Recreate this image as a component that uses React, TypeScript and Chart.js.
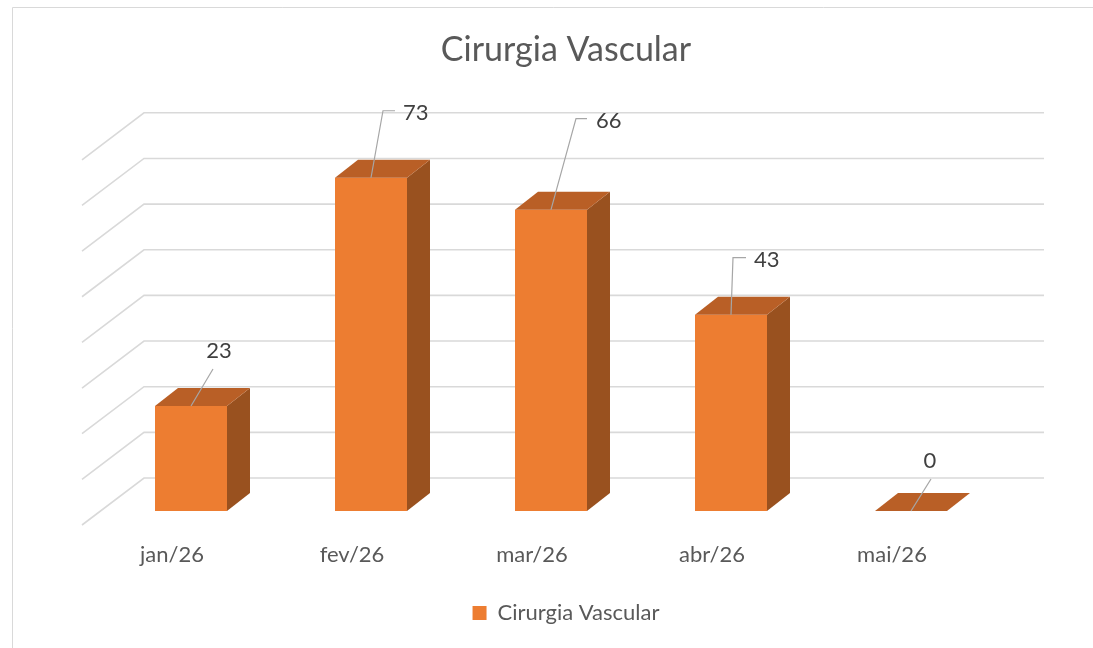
import React, { useEffect, useRef } from "react";
import { Chart, registerables } from "chart.js";

Chart.register(...registerables);

const categories = ["jan/26", "fev/26", "mar/26", "abr/26", "mai/26"];
const seriesName = "Cirurgia Vascular";
const values = [23, 73, 66, 43, 0];
const yMax = 80;
const yStep = 10;

// label leader layout (relative to bar top centre)
const labelElbows = [[22, -37], [12, -67], [25, -91], [2, -57], [20, -32]];
const labelTails = [0, 12, 11, 13, 0];
const labelTexts: [number, number, CanvasTextAlign][] = [
  [28, -55, "center"], [32, -65, "left"], [45, -89, "left"], [23, -55, "left"], [19, -50, "center"],
];

const FONT = "Lato, 'Open Sans', sans-serif";
const FRONT = "#ED7D31";
const TOP = "#B95F26";
const SIDE = "#99511F";
const GRID = "#D9D9D9";
const DEPTH = { dx: 23, dy: -18 };
const BACK = { dx: 43, dy: -33 };
const FRONTPLANE = { dx: -19, dy: 14 };

const threeD = {
  id: "threeD",
  beforeDraw(chart: any) {
    const ctx = chart.ctx;
    ctx.save();
    ctx.strokeStyle = GRID;
    ctx.lineWidth = 1;
    ctx.beginPath();
    ctx.moveTo(12.5, chart.height + 5);
    ctx.lineTo(12.5, 7.5);
    ctx.lineTo(chart.width + 5, 7.5);
    ctx.stroke();
    ctx.restore();
  },
  beforeDatasetsDraw(chart: any) {
    const ctx = chart.ctx;
    const ys = chart.scales.y;
    const area = chart.chartArea;
    ctx.save();
    ctx.strokeStyle = GRID;
    ctx.lineWidth = 1.6;
    ys.ticks.forEach((t: any) => {
      const y = ys.getPixelForValue(t.value) + BACK.dy;
      const xl = area.left + BACK.dx;
      const xr = area.right + BACK.dx;
      ctx.beginPath();
      ctx.moveTo(area.left + FRONTPLANE.dx, ys.getPixelForValue(t.value) + FRONTPLANE.dy);
      ctx.lineTo(xl, y);
      ctx.lineTo(xr, y);
      ctx.stroke();
    });
    // category labels on the front floor edge
    const xs = chart.scales.x;
    ctx.fillStyle = "#595959";
    ctx.font = `22px ${FONT}`;
    ctx.textAlign = "center";
    ctx.textBaseline = "middle";
    categories.forEach((c, i) => {
      ctx.fillText(c, xs.getPixelForValue(i) + FRONTPLANE.dx, area.bottom + 44);
    });
    ctx.restore();
  },
  afterDatasetsDraw(chart: any) {
    const ctx = chart.ctx;
    const meta = chart.getDatasetMeta(0);
    ctx.save();
    meta.data.forEach((bar: any, i: number) => {
      const { x, y, base, width } = bar.getProps(["x", "y", "base", "width"], true);
      const l = x - width / 2;
      const r = x + width / 2;
      // side face
      ctx.fillStyle = SIDE;
      ctx.beginPath();
      ctx.moveTo(r, y);
      ctx.lineTo(r + DEPTH.dx, y + DEPTH.dy);
      ctx.lineTo(r + DEPTH.dx, base + DEPTH.dy);
      ctx.lineTo(r, base);
      ctx.closePath();
      ctx.fill();
      // top face
      ctx.fillStyle = TOP;
      ctx.beginPath();
      ctx.moveTo(l, y);
      ctx.lineTo(l + DEPTH.dx, y + DEPTH.dy);
      ctx.lineTo(r + DEPTH.dx, y + DEPTH.dy);
      ctx.lineTo(r, y);
      ctx.closePath();
      ctx.fill();
      // leader line
      const [ex, ey] = labelElbows[i];
      ctx.strokeStyle = "#A6A6A6";
      ctx.lineWidth = 1.2;
      ctx.beginPath();
      ctx.moveTo(x, y);
      ctx.lineTo(x + ex, y + ey);
      if (labelTails[i]) ctx.lineTo(x + ex + labelTails[i], y + ey);
      ctx.stroke();
      const [tx, ty, al] = labelTexts[i];
      ctx.fillStyle = "#404040";
      ctx.font = `22px ${FONT}`;
      ctx.textAlign = al;
      ctx.textBaseline = "middle";
      ctx.fillText(String(values[i]), x + tx, y + ty);
    });
    ctx.restore();
  },
};

export default function App() {
  const ref = useRef<HTMLCanvasElement>(null);
  useEffect(() => {
    if (!ref.current) return;
    const chart = new Chart(ref.current, {
      type: "bar",
      data: {
        labels: categories,
        datasets: [
          {
            label: seriesName,
            data: values,
            backgroundColor: FRONT,
            borderWidth: 0,
            categoryPercentage: 1,
            barPercentage: 0.4,
          },
        ],
      },
      options: {
        responsive: false,
        animation: false,
        events: [],
        layout: { padding: { left: 39, right: 0, top: 0, bottom: 14 } },
        scales: {
          x: {
            display: true,
            grid: { display: false },
            border: { display: false },
            ticks: { display: false },
            afterFit: (s: any) => { s.height = 81; },
          },
          y: {
            min: 0,
            max: yMax,
            display: true,
            ticks: { display: false, stepSize: yStep },
            grid: { display: false },
            border: { display: false },
            afterFit: (s: any) => { s.width = 62; },
          },
          yRight: {
            type: "linear",
            position: "right",
            display: true,
            ticks: { display: false },
            grid: { display: false },
            border: { display: false },
            afterFit: (s: any) => { s.width = 92; },
          },
        },
        plugins: {
          title: {
            display: true,
            text: seriesName,
            color: "#595959",
            font: { family: FONT, size: 34, weight: "normal" },
            padding: { top: 30, bottom: 75 },
          },
          legend: {
            display: true,
            position: "bottom",
            labels: {
              color: "#595959",
              font: { family: FONT, size: 22 },
              boxWidth: 14,
              boxHeight: 14,
              padding: 10,
            },
          },
          tooltip: { enabled: false },
        },
      },
      plugins: [threeD],
    } as any);
    return () => chart.destroy();
  }, []);
  return (
    <div style={{ position: "fixed", left: 0, top: 0, width: 1093, height: 648, background: "#fff" }}>
      <canvas ref={ref} width={1093} height={648} style={{ display: "block" }} />
    </div>
  );
}
